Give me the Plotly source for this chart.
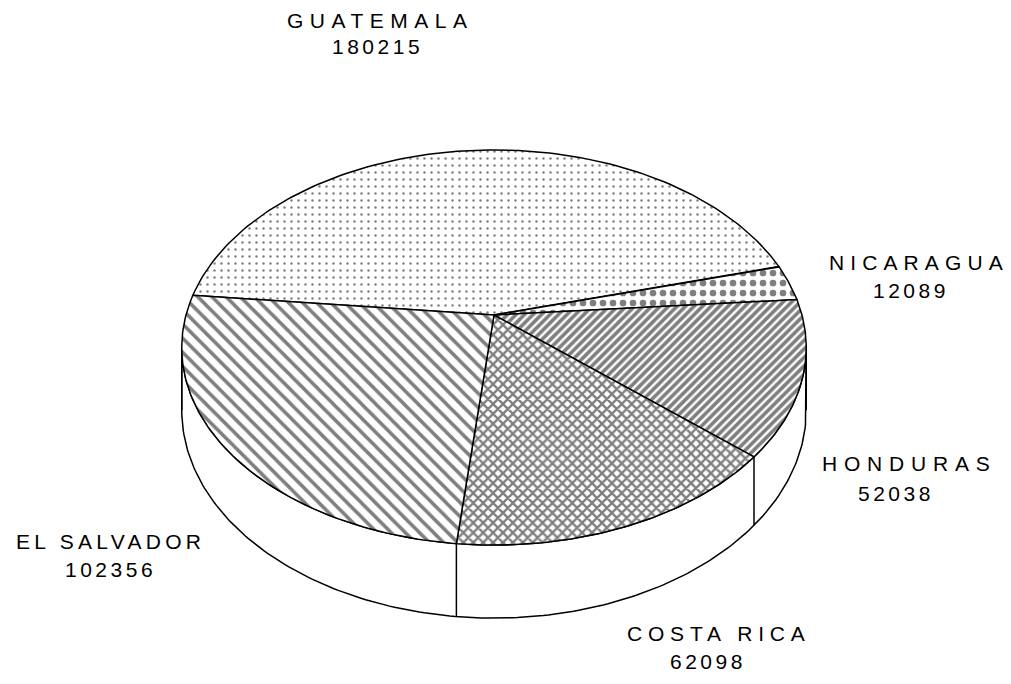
import numpy as np
import plotly.graph_objects as go

countries = ["GUATEMALA", "NICARAGUA", "HONDURAS", "COSTA RICA", "EL SALVADOR"]
values = [180215, 12089, 52038, 62098, 102356]

# label anchor points (pixels): name line and value line
name_x = [380, 919, 909, 719, 110]
name_y = [20, 262, 463, 633, 541]
value_x = [377, 911, 896, 708, 110]
value_y = [46, 290, 493, 661, 569]
name_spacing = [6.5, 6.1, 6.8, 5.8, 4.3]

patterns = [
    dict(shape=".", size=7, solidity=0.1),
    dict(shape=".", size=10, solidity=0.35),
    dict(shape="/", size=6, solidity=0.6),
    dict(shape="x", size=7, solidity=0.55),
    dict(shape="\\", size=10, solidity=0.35),
]

# perspective pie geometry (screen pixels)
X0, Y0 = 494, 315
A, B, k = 308, 192.2, 0.1646
D = 61
start = 174.0


def proj(th):
    u, v = np.cos(th), np.sin(th)
    w = 1 + k * v
    return X0 + A * u / w, Y0 - B * v / w, w


fig = go.Figure()

# side wall (front half)
a = np.arcsin(k)
th = np.linspace(np.pi + a, 2 * np.pi - a, 200)
tx, ty, tw = proj(th)
bx, by = tx, ty + D / tw
fig.add_trace(go.Scatter(
    x=np.concatenate([tx, bx[::-1], tx[:1]]),
    y=np.concatenate([ty, by[::-1], ty[:1]]),
    mode="lines", fill="toself", fillcolor="white",
    line=dict(color="black", width=1.5), hoverinfo="skip"))

total = sum(values)
frac = np.array(values) / total
edges = np.radians(start) - 2 * np.pi * np.concatenate([[0], np.cumsum(frac)])

# vertical edges on side wall
vert = [np.pi + a, 2 * np.pi - a]
for e in edges[1:-1]:
    e2 = e % (2 * np.pi)
    if np.pi + a < e2 < 2 * np.pi - a:
        vert.append(e2)
for e in vert:
    x1, y1, w1 = proj(e)
    fig.add_trace(go.Scatter(x=[x1, x1], y=[y1, y1 + D / w1], mode="lines",
                             line=dict(color="black", width=1.5), hoverinfo="skip"))

# top face slices
for i, name in enumerate(countries):
    th = np.linspace(edges[i], edges[i + 1], 120)
    sx, sy, _ = proj(th)
    fig.add_trace(go.Scatter(
        x=np.concatenate([[X0], sx, [X0]]),
        y=np.concatenate([[Y0], sy, [Y0]]),
        mode="lines", fill="toself", fillcolor="white",
        fillpattern=dict(fgcolor="black", bgcolor="white", **patterns[i]),
        line=dict(color="black", width=1.5), name=name, hoverinfo="skip"))

for i, name in enumerate(countries):
    fig.add_annotation(x=name_x[i], y=name_y[i],
                       text='<span style="letter-spacing:%spx">%s</span>' % (name_spacing[i], name),
                       showarrow=False, xanchor="center", yanchor="middle",
                       font=dict(family="Liberation Sans", size=21, color="black"))
    fig.add_annotation(x=value_x[i], y=value_y[i],
                       text='<span style="letter-spacing:3.5px">%d</span>' % values[i],
                       showarrow=False, xanchor="center", yanchor="middle",
                       font=dict(family="Liberation Sans", size=21, color="black"))

# page body has an 8px margin, so the figure covers page pixels 8..1011
fig.update_layout(
    width=1003, height=676, margin=dict(l=0, r=0, t=0, b=0),
    paper_bgcolor="white", plot_bgcolor="white", showlegend=False,
    xaxis=dict(range=[8, 1011], visible=False),
    yaxis=dict(range=[684, 8], visible=False),
)

fig.write_html("out.html")
